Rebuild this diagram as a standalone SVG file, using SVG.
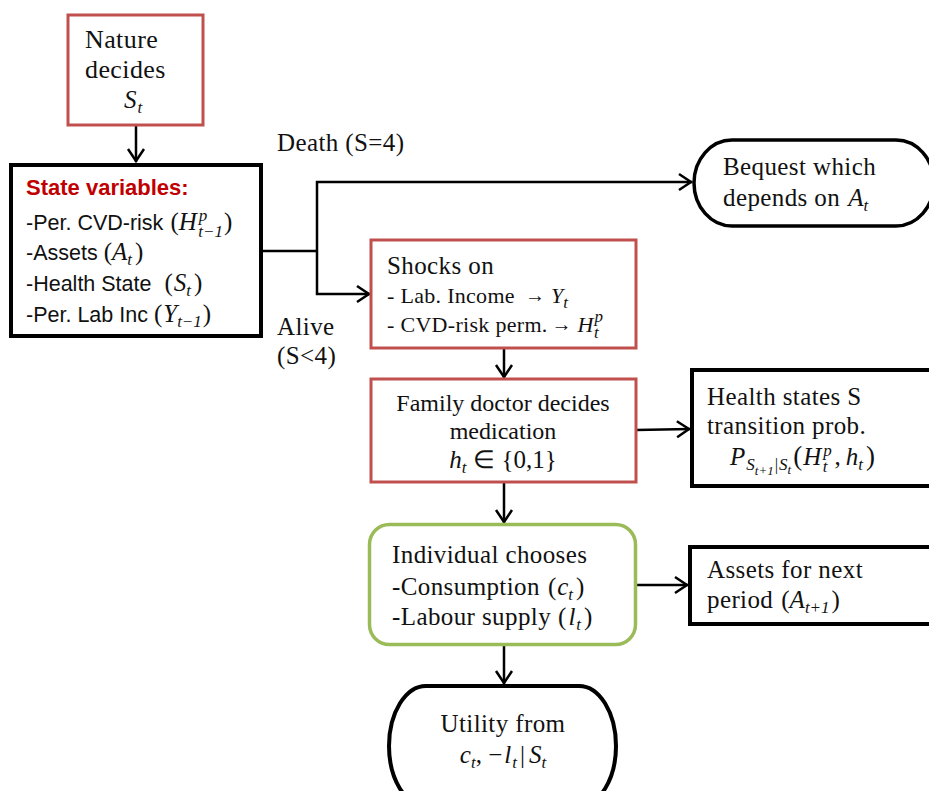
<svg xmlns="http://www.w3.org/2000/svg" width="929" height="791" viewBox="0 0 929 791">
<style>
.red{fill:#fff;stroke:#C0504D;stroke-width:3}
.blk{fill:#fff;stroke:#000;stroke-width:4}
.grn{fill:#fff;stroke:#9BBB59;stroke-width:3.5}
.cap{fill:#fff;stroke:#000;stroke-width:3.5}
.con{fill:none;stroke:#000;stroke-width:2.5}
text{fill:#111;font-family:"Liberation Serif",serif}
.s{font-size:25px;letter-spacing:0.4px}
.sm{font-size:22px;letter-spacing:0.3px}
.ss{font-family:"Liberation Sans",Arial,sans-serif;font-size:21.5px}
.ttl{font-family:"Liberation Sans",Arial,sans-serif;font-size:22px;font-weight:bold;fill:#C00000}
.i{font-style:italic;letter-spacing:0}
.m{font-size:25px}
.sb{font-size:17px}
.sbb{font-size:13px}
.up{font-style:normal;letter-spacing:0}
</style>
<defs>
<marker id="ah" markerUnits="userSpaceOnUse" markerWidth="22" markerHeight="22" viewBox="-16 -11 22 22" refX="0" refY="0" orient="auto">
<path d="M-13,-8 L-1,0 L-13,8" fill="none" stroke="#000" stroke-width="2.5"/>
</marker>
</defs>

<g id="connectors">
<path class="con" d="M136,125 V162" marker-end="url(#ah)"/>
<path class="con" d="M262,251 H317"/>
<path class="con" d="M317,251 V182 H692" marker-end="url(#ah)"/>
<path class="con" d="M317,251 V294 H370" marker-end="url(#ah)"/>
<path class="con" d="M504,349 V378" marker-end="url(#ah)"/>
<path class="con" d="M636,430 L690,429" marker-end="url(#ah)"/>
<path class="con" d="M504,483 V523" marker-end="url(#ah)"/>
<path class="con" d="M637,585 H688" marker-end="url(#ah)"/>
<path class="con" d="M504,646 V684" marker-end="url(#ah)"/>
</g>

<g id="labels">
<text class="s" x="277" y="151">Death (S=4)</text>
<text class="s" x="277" y="335">Alive</text>
<text class="s" x="277" y="364">(S&lt;4)</text>
</g>

<g id="nature">
<rect class="red" x="68" y="15" width="135" height="110"/>
<text class="s" style="font-size:26px" x="85" y="48">Nature</text>
<text class="s" style="font-size:26px" x="85" y="78">decides</text>
<text class="i m" x="124" y="108">S<tspan class="sb" dy="5" dx="1">t</tspan></text>
</g>

<g id="state">
<rect class="blk" x="11" y="165" width="250" height="171"/>
<text class="ttl" x="26" y="195">State variables:</text>
<text x="26" y="230"><tspan class="ss">-Per. CVD-risk</tspan><tspan class="up m" dx="7">(</tspan><tspan class="i m">H</tspan><tspan class="i sb" dx="2" dy="-9">p</tspan><tspan class="i sb" dx="-9" dy="16">t−1</tspan><tspan class="up m" dy="-7" dx="1">)</tspan></text>
<text x="26" y="260"><tspan class="ss">-Assets</tspan><tspan class="up m" dx="6">(</tspan><tspan class="i m">A</tspan><tspan class="i sb" dy="5">t</tspan><tspan class="up m" dy="-5" dx="3">)</tspan></text>
<text x="26" y="291"><tspan class="ss">-Health State</tspan><tspan class="up m" dx="13">(</tspan><tspan class="i m" dx="1">S</tspan><tspan class="i sb" dy="5">t</tspan><tspan class="up m" dy="-5" dx="3">)</tspan></text>
<text x="26" y="322"><tspan class="ss">-Per. Lab Inc</tspan><tspan class="up m" dx="6">(</tspan><tspan class="i m" dx="1">Υ</tspan><tspan class="i sb" dy="5">t−1</tspan><tspan class="up m" dy="-5" dx="1">)</tspan></text>
</g>

<g id="bequest">
<rect class="cap" x="694" y="140" width="240" height="86" rx="38" ry="43"/>
<text class="s" x="723" y="175">Bequest which</text>
<text class="s" x="723" y="206">depends on<tspan class="i m" dx="8">A</tspan><tspan class="i sb" dy="5">t</tspan></text>
</g>

<g id="shocks">
<rect class="red" x="371" y="240" width="265" height="108"/>
<text class="s" x="387" y="274">Shocks on</text>
<text class="sm" x="387" y="303">- Lab. Income<tspan class="up" style="font-size:20px" dx="10" dy="-1">→</tspan><tspan class="i" dx="6" dy="1">Υ</tspan><tspan class="i sb" dy="5">t</tspan></text>
<text class="sm" x="387" y="332">- CVD-risk perm.<tspan class="up" style="font-size:20px" dx="4" dy="-1">→</tspan><tspan class="i" dx="6" dy="1">H</tspan><tspan class="i sb" dx="1" dy="-10">p</tspan><tspan class="i sb" dx="-9" dy="16">t</tspan></text>
</g>

<g id="family">
<rect class="red" x="371" y="379" width="265" height="103"/>
<text class="s" style="font-size:24px;letter-spacing:0" x="503" y="411" text-anchor="middle">Family doctor decides</text>
<text class="s" style="font-size:24px;letter-spacing:0" x="503" y="439" text-anchor="middle">medication</text>
<text x="503" y="468" text-anchor="middle" style="font-size:25px"><tspan class="i">h</tspan><tspan class="i sb" dy="5">t</tspan><tspan class="up" dx="7" dy="-5">∈</tspan><tspan class="up" dx="6">{0,1}</tspan></text>
</g>

<g id="health">
<rect class="blk" x="692" y="370" width="250" height="116"/>
<text class="s" x="707" y="405">Health states S</text>
<text class="s" x="707" y="434">transition prob.</text>
<text class="i m" x="730" y="465">P<tspan class="sb" dy="5" dx="1">S</tspan><tspan class="sbb" dy="5">t+1</tspan><tspan class="up sb" dy="-5" dx="1">|</tspan><tspan class="sb" dx="1">S</tspan><tspan class="sbb" dy="4">t</tspan><tspan class="up" style="font-size:27px" dy="-9" dx="2">(</tspan><tspan dx="1">H</tspan><tspan class="sb" dy="-9" dx="2">p</tspan><tspan class="sb" dx="-9" dy="16">t</tspan><tspan class="up" dy="-7" dx="7">,</tspan><tspan dx="5">h</tspan><tspan class="sb" dy="5">t</tspan><tspan class="up" style="font-size:27px" dy="-5" dx="3">)</tspan></text>
</g>

<g id="individual">
<rect class="grn" x="369.5" y="524.5" width="266" height="120" rx="20" ry="20"/>
<text class="s" x="392" y="563">Individual chooses</text>
<text class="s" x="392" y="595">-Consumption<tspan class="up" dx="8">(</tspan><tspan class="i" dx="1">c</tspan><tspan class="i sb" dy="5">t</tspan><tspan class="up" dy="-5" dx="3">)</tspan></text>
<text class="s" x="392" y="625">-Labour supply<tspan class="up" dx="7">(</tspan><tspan class="i" dx="2">l</tspan><tspan class="i sb" dy="5" dx="1">t</tspan><tspan class="up" dy="-5" dx="3">)</tspan></text>
</g>

<g id="assets">
<rect class="blk" x="690" y="547" width="250" height="77"/>
<text class="s" x="707" y="578">Assets for next</text>
<text class="s" x="707" y="608">period<tspan class="up" dx="8">(</tspan><tspan class="i">A</tspan><tspan class="i sb" dy="5">t+1</tspan><tspan class="up" dy="-5" dx="2">)</tspan></text>
</g>

<g id="utility">
<rect class="cap" x="389" y="686" width="227" height="120" rx="37" ry="60" style="stroke-width:4"/>
<text class="s" x="503" y="732" text-anchor="middle">Utility from</text>
<text class="m" x="503" y="763" text-anchor="middle"><tspan class="i">c</tspan><tspan class="i sb" dy="5">t</tspan><tspan class="up" dy="-5">, −</tspan><tspan class="i" dx="2">l</tspan><tspan class="i sb" dy="5" dx="1">t</tspan><tspan class="up" dy="-5" dx="3">|</tspan><tspan class="i" dx="4">S</tspan><tspan class="i sb" dy="5">t</tspan></text>
</g>
</svg>
